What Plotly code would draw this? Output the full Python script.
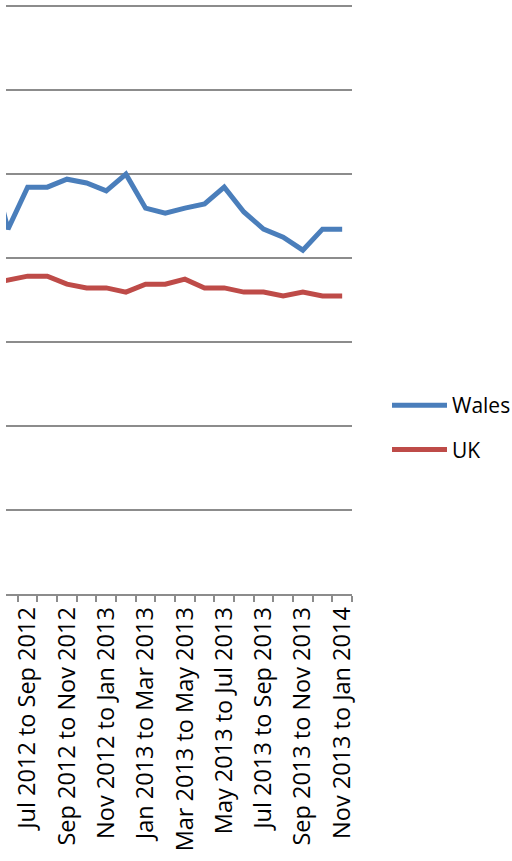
import plotly.graph_objects as go

categories = [
    "May 2012 to Jul 2012", "Jun 2012 to Aug 2012", "Jul 2012 to Sep 2012",
    "Aug 2012 to Oct 2012", "Sep 2012 to Nov 2012", "Oct 2012 to Dec 2012",
    "Nov 2012 to Jan 2013", "Dec 2012 to Feb 2013", "Jan 2013 to Mar 2013",
    "Feb 2013 to Apr 2013", "Mar 2013 to May 2013", "Apr 2013 to Jun 2013",
    "May 2013 to Jul 2013", "Jun 2013 to Aug 2013", "Jul 2013 to Sep 2013",
    "Aug 2013 to Oct 2013", "Sep 2013 to Nov 2013", "Oct 2013 to Dec 2013",
    "Nov 2013 to Jan 2014",
]
wales = [10.5, 8.69, 9.69, 9.69, 9.88, 9.79, 9.60, 10.0, 9.19, 9.07,
         9.19, 9.29, 9.69, 9.10, 8.69, 8.50, 8.19, 8.69, 8.69]
uk = [7.38, 7.48, 7.57, 7.57, 7.38, 7.29, 7.29, 7.19, 7.38, 7.38,
      7.50, 7.29, 7.29, 7.19, 7.19, 7.10, 7.19, 7.10, 7.10]
labelled = categories[2::2]

x = list(range(-1, len(categories) - 1))
tickvals = x[2::2]
boundaries = [v + 0.5 for v in x[1:]]

fig = go.Figure()
fig.add_trace(go.Scatter(x=x, y=wales, name="Wales", mode="lines",
                         line=dict(color="#4A7EBB", width=5),
                         legendgroup="a"))
fig.add_trace(go.Scatter(x=x, y=uk, name="UK", mode="lines",
                         line=dict(color="#BE4B48", width=5),
                         legendgroup="b"))

fig.update_layout(
    width=512, height=861,
    margin=dict(l=6, r=160, t=2, b=267),
    plot_bgcolor="white", paper_bgcolor="white",
    font=dict(family="Open Sans, Liberation Sans, sans-serif", size=22, color="black"),
    showlegend=True,
    legend=dict(xref="container", yref="container", x=387 / 512, y=1 - 385 / 861,
                xanchor="left", yanchor="top", traceorder="grouped",
                tracegroupgap=14, itemwidth=55, font=dict(size=21),
                bgcolor="rgba(0,0,0,0)"),
)
fig.update_xaxes(
    range=[-0.1, 17.5], tickmode="array", tickvals=tickvals, ticktext=labelled,
    tickangle=-90, ticks="", showgrid=False, zeroline=False,
    showline=True, linecolor="#8c8c8c", linewidth=1.5,
    tickfont=dict(size=23.5), ticklabelstandoff=2,
    minor=dict(tickmode="array", tickvals=boundaries, ticks="outside",
               ticklen=6, tickcolor="#8c8c8c", tickwidth=1.5, showgrid=False),
)
fig.update_yaxes(
    range=[0, 14.1], dtick=2, showticklabels=False, showgrid=True,
    gridcolor="#8c8c8c", gridwidth=1.5, zeroline=False, showline=False,
)

fig.write_html("out.html", config={"displayModeBar": False},
               post_script="document.body.style.margin='0';")
